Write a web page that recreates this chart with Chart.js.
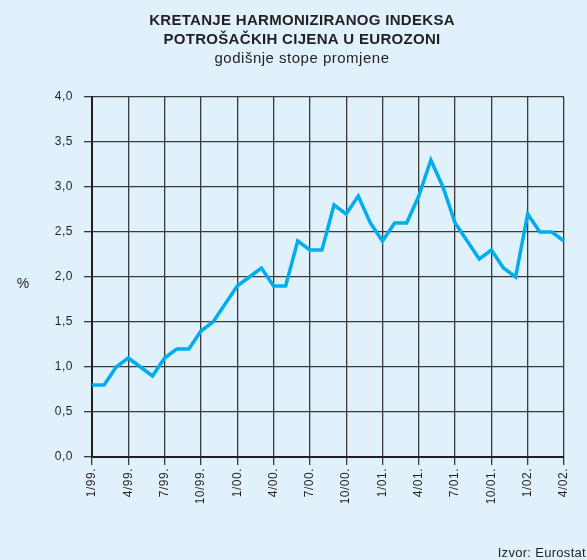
<!DOCTYPE html>
<html>
<head>
<meta charset="utf-8">
<script src="https://cdn.jsdelivr.net/npm/chart.js@4/dist/chart.umd.min.js"></script>
<style>
  html, body { margin: 0; padding: 0; background: #e0f1fb; }
  #wrap { width: 587px; height: 560px; position: relative; }
</style>
</head>
<body>
<div id="wrap"><canvas id="hicpChart" width="587" height="560"></canvas></div>
<script>
// monthly labels 1/99 - 4/02
const months = [
    '1/99.', '2/99.', '3/99.', '4/99.', '5/99.', '6/99.', '7/99.', '8/99.', '9/99.', '10/99.', '11/99.', '12/99.',
    '1/00.', '2/00.', '3/00.', '4/00.', '5/00.', '6/00.', '7/00.', '8/00.', '9/00.', '10/00.', '11/00.', '12/00.',
    '1/01.', '2/01.', '3/01.', '4/01.', '5/01.', '6/01.', '7/01.', '8/01.', '9/01.', '10/01.', '11/01.', '12/01.',
    '1/02.', '2/02.', '3/02.', '4/02.'
];

// HICP, annual rates of change (%)
const hicp = [
    0.8, 0.8, 1.0, 1.1, 1.0, 0.9, 1.1, 1.2, 1.2, 1.4, 1.5, 1.7,
    1.9, 2.0, 2.1, 1.9, 1.9, 2.4, 2.3, 2.3, 2.8, 2.7, 2.9, 2.6,
    2.4, 2.6, 2.6, 2.9, 3.3, 3.0, 2.6, 2.4, 2.2, 2.3, 2.1, 2.0,
    2.7, 2.5, 2.5, 2.4
];

const titleLines = ['KRETANJE HARMONIZIRANOG INDEKSA', 'POTROŠAČKIH CIJENA U EUROZONI'];
const subtitle = 'godišnje stope promjene';
const yTitle = '%';
const source = 'Izvor: Eurostat';

const FONT = '"Liberation Sans", Arial, Helvetica, sans-serif';

// the original type is set a little wider, so space the letters out a bit
const spacingPlugin = {
    id: 'spacing',
    beforeUpdate(chart) { chart.ctx.letterSpacing = '0.5px'; },
    beforeDraw(chart) { chart.ctx.letterSpacing = '0.5px'; }
};

// texts drawn outside the chart area
const textPlugin = {
    id: 'texts',
    afterDraw(chart) {
        const ctx = chart.ctx;
        ctx.save();
        ctx.fillStyle = '#231f20';
        ctx.textAlign = 'center';
        ctx.textBaseline = 'middle';
        ctx.letterSpacing = '0.3px';
        ctx.font = 'bold 15px ' + FONT;
        ctx.fillText(titleLines[0], 302, 21);
        ctx.fillText(titleLines[1], 302, 40);
        ctx.letterSpacing = '0.5px';
        ctx.font = '15px ' + FONT;
        ctx.fillText(subtitle, 302, 59);
        ctx.letterSpacing = '0px';
        ctx.font = '14px ' + FONT;
        ctx.fillText(yTitle, 23, 284);
        ctx.font = '13px ' + FONT;
        ctx.letterSpacing = '0.3px';
        ctx.textAlign = 'right';
        ctx.fillText(source, 586, 553);
        ctx.restore();
    }
};

new Chart(document.getElementById('hicpChart'), {
    type: 'line',
    data: {
        labels: months,
        datasets: [{
            data: hicp,
            borderColor: '#00adef',
            borderWidth: 3.5,
            pointRadius: 0,
            tension: 0,
            fill: false
        }]
    },
    options: {
        responsive: false,
        animation: false,
        layout: { padding: { top: 97, right: 23, left: 0, bottom: 0 } },
        plugins: {
            legend: { display: false },
            tooltip: { enabled: false }
        },
        scales: {
            x: {
                offset: false,
                afterFit(scale) { scale.height = 103; },
                border: { color: '#231f20', width: 2 },
                grid: {
                    color: c => (c.index % 3 === 0 ? '#3a3a3a' : 'rgba(0,0,0,0)'),
                    lineWidth: 1.3,
                    tickLength: 8
                },
                ticks: {
                    autoSkip: false,
                    maxRotation: 90,
                    minRotation: 90,
                    padding: 3,
                    color: '#231f20',
                    font: { family: FONT, size: 12 },
                    callback(value, index) {
                        return index % 3 === 0 ? this.getLabelForValue(value) : '';
                    }
                }
            },
            y: {
                min: 0,
                max: 4,
                afterFit(scale) { scale.width = 92; },
                border: { color: '#231f20', width: 2 },
                grid: { color: '#3a3a3a', lineWidth: 1.3, tickLength: 8 },
                ticks: {
                    stepSize: 0.5,
                    padding: 11,
                    color: '#231f20',
                    font: { family: FONT, size: 12 },
                    callback: v => v.toFixed(1).replace('.', ',')
                }
            }
        }
    },
    plugins: [spacingPlugin, textPlugin]
});
</script>
</body>
</html>
